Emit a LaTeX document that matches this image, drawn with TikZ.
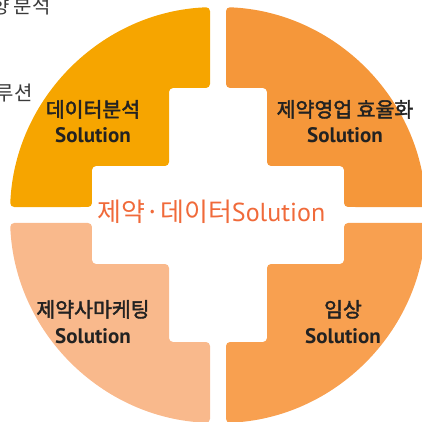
\documentclass[tikz,border=0pt]{standalone}
\usepackage{fontspec}
\setmainfont{Noto Sans CJK KR}
\newfontfamily\krb{Noto Sans CJK KR}[FakeBold=2]
\newfontfamily\latb{PT Sans Bold}
\newfontfamily\latr{PT Sans}
\definecolor{qTL}{HTML}{F6A500}
\definecolor{qTR}{HTML}{F5973A}
\definecolor{qBL}{HTML}{F9B98C}
\definecolor{qBR}{HTML}{F8A050}
\definecolor{ctext}{HTML}{F06A3A}
\definecolor{ltext}{HTML}{222222}
\definecolor{gtext}{HTML}{3A3A3A}
\begin{document}
\begin{tikzpicture}[x=1pt,y=1pt,
  quad/.style={rounded corners=4pt},
  lblk/.style={font=\krb\fontsize{20.5}{22}\selectfont, text=ltext, inner sep=0pt, anchor=base},
  lbll/.style={font=\latb\fontsize{21}{22}\selectfont, text=ltext, inner sep=0pt, anchor=base},
  frag/.style={font=\fontsize{20}{22}\selectfont, text=gtext, inner sep=0pt, anchor=base east}]
\useasboundingbox (-218,-207) rectangle (204,215);
\def\quadpath{(-49,127) -- (-8,127) -- (-8,207.85) arc[start angle=92.2, end angle=177.8, radius=208] -- (-126,8) -- (-126,49) -- (-49,49) -- cycle}
\fill[qTL, quad] \quadpath;
\begin{scope}[xscale=-1]\fill[qTR, quad] \quadpath;\end{scope}
\begin{scope}[yscale=-1]\fill[qBL, quad] \quadpath;\end{scope}
\begin{scope}[xscale=-1,yscale=-1]\fill[qBR, quad] \quadpath;\end{scope}
\node[frag] (f1) at (-167,201) {향 분석};
\node[frag] (f2) at (-185,114) {루션};
\node[lblk] (a1) at (-125,98) {데이터분석};
\node[lbll] (a2) at (-125,72) {Solution};
\node[lblk] (b1) at (127,98) {제약영업 효율화};
\node[lbll] (b2) at (127,72) {Solution};
\node[lblk] (c1) at (-125,-102) {제약사마케팅};
\node[lbll] (c2) at (-125,-128) {Solution};
\node[lblk] (d1) at (125,-102) {임상};
\node[lbll] (d2) at (125,-128) {Solution};
\node[text=ctext, inner sep=0pt, anchor=base] (ct) at (-6.5,-7) {\fontsize{26}{28}\selectfont 제약·데이터\latr Solution};
\end{tikzpicture}
\end{document}
